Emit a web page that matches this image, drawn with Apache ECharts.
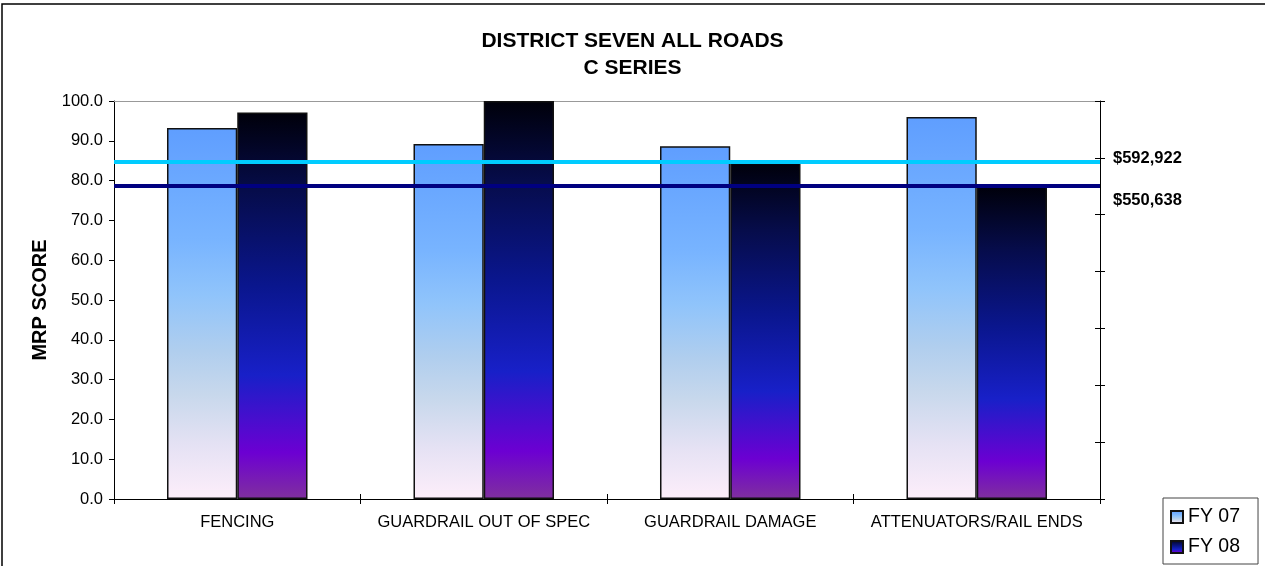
<!DOCTYPE html>
<html>
<head>
<meta charset="utf-8">
<script src="https://cdn.jsdelivr.net/npm/echarts@6/dist/echarts.min.js"></script>
<style>
html,body{margin:0;padding:0;background:#fff;}
#chart{width:1265px;height:566px;}
</style>
</head>
<body>
<div id="chart"></div>
<script>
const categories = ['FENCING', 'GUARDRAIL OUT OF SPEC', 'GUARDRAIL DAMAGE', 'ATTENUATORS/RAIL ENDS'];
const seriesNames = ['FY 07', 'FY 08'];
const fy07 = [93.2, 89.2, 88.6, 96.0];
const fy08 = [97.1, 100.0, 84.5, 78.6];
const costValues = [592922, 550638];
const costColors = ['#00ccff', '#000080'];
const scoreMin = 0, scoreMax = 100, scoreInterval = 10;
const costMin = 0, costMax = 700000, costInterval = 100000;

const FONT = "'Liberation Sans', Arial, sans-serif";

function grad(stops) {
  return new echarts.graphic.LinearGradient(0, 0, 0, 1,
    stops.map(s => ({offset: s[0], color: s[1]})));
}
const fy07Grad = grad([[0,'#5f9eff'],[0.3,'#78b4ff'],[0.45,'#90c4fb'],[0.6,'#b0ceee'],[0.72,'#c8d8ec'],[0.86,'#e6e2f4'],[1,'#fdeefa']]);
const fy08Grad = grad([[0,'#00000a'],[0.2,'#060c4a'],[0.45,'#0a168e'],[0.68,'#1820c8'],[0.88,'#6c00d2'],[1,'#80309e']]);

const chart = echarts.init(document.getElementById('chart'), null, {renderer: 'canvas'});

const lineSeries = costValues.map((v, i) => ({
  type: 'line',
  xAxisIndex: 1,
  yAxisIndex: 1,
  data: [[0, v], [1, v]],
  symbol: 'none',
  silent: true,
  z: 5,
  lineStyle: {color: costColors[i], width: 4},
  endLabel: {
    show: true,
    formatter: '$' + v.toLocaleString('en-US'),
    distance: 13,
    offset: [0, i === 0 ? -3 : 15],
    fontFamily: FONT,
    fontWeight: 'bold',
    fontSize: 16.5,
    color: '#000'
  }
}));

chart.setOption({
  animation: false,
  backgroundColor: '#fff',
  title: {
    text: 'DISTRICT SEVEN ALL ROADS\nC SERIES',
    left: 'center',
    top: 28,
    padding: [0, 0, 0, 5],
    textStyle: {fontFamily: FONT, fontWeight: 'bold', fontSize: 21, lineHeight: 26.5, color: '#000'}
  },
  legend: {
    data: seriesNames,
    orient: 'vertical',
    left: 1163,
    top: 498,
    padding: [9, 18, 7, 7],
    itemGap: 10,
    itemWidth: 12,
    itemHeight: 12,
    icon: 'rect',
    borderColor: '#444',
    borderWidth: 1,
    textStyle: {fontFamily: FONT, fontSize: 19.5, lineHeight: 18, color: '#000'}
  },
  grid: {left: 114, right: 165, top: 101, bottom: 67, containLabel: false, outerBoundsMode: 'none'},
  xAxis: [
    {
      type: 'category',
      data: categories,
      boundaryGap: true,
      axisLine: {show: true, lineStyle: {color: '#000', width: 1}},
      axisTick: {show: true, length: 5, inside: false, lineStyle: {color: '#000'}},
      axisLabel: {fontFamily: FONT, fontSize: 16.5, color: '#000', margin: 15, interval: 0},
      splitLine: {show: false}
    },
    {
      type: 'value',
      position: 'top',
      min: 0, max: 1,
      axisLine: {show: true, onZero: false, lineStyle: {color: '#999', width: 1}},
      axisTick: {show: false},
      axisLabel: {show: false},
      splitLine: {show: false}
    },
    {
      type: 'category',
      data: categories,
      position: 'bottom',
      boundaryGap: true,
      axisLine: {show: false},
      axisTick: {show: true, length: 5, inside: true, lineStyle: {color: '#000'}},
      axisLabel: {show: false},
      splitLine: {show: false}
    }
  ],
  yAxis: [
    {
      type: 'value',
      min: scoreMin, max: scoreMax, interval: scoreInterval,
      name: 'MRP SCORE',
      nameLocation: 'middle',
      nameGap: 37,
      nameRotate: 90,
      nameTextStyle: {fontFamily: FONT, fontWeight: 'bold', fontSize: 20, color: '#000'},
      axisLine: {show: true, lineStyle: {color: '#000', width: 1}},
      axisTick: {show: true, length: 5, lineStyle: {color: '#000'}},
      axisLabel: {fontFamily: FONT, fontSize: 16.5, color: '#000', margin: 11, formatter: v => v.toFixed(1)},
      splitLine: {show: false}
    },
    {
      type: 'value',
      position: 'right',
      min: costMin, max: costMax, interval: costInterval,
      axisLine: {show: true, lineStyle: {color: '#000', width: 1}},
      axisTick: {show: true, length: 5, lineStyle: {color: '#000'}},
      axisLabel: {show: false},
      splitLine: {show: false}
    },
    {
      type: 'value',
      position: 'right',
      min: costMin, max: costMax, interval: costInterval,
      axisLine: {show: false},
      axisTick: {show: true, inside: true, length: 5, lineStyle: {color: '#000'}},
      axisLabel: {show: false},
      splitLine: {show: false}
    }
  ],
  series: [
    {
      name: seriesNames[0],
      type: 'bar',
      data: fy07,
      barGap: '0%',
      barCategoryGap: '43%',
      itemStyle: {color: fy07Grad, borderColor: '#111', borderWidth: 1.5}
    },
    {
      name: seriesNames[1],
      type: 'bar',
      data: fy08,
      barGap: '0%',
      barCategoryGap: '43%',
      itemStyle: {color: fy08Grad, borderColor: '#111', borderWidth: 1.5}
    }
  ].concat(lineSeries),
  graphic: [
    {
      type: 'rect',
      silent: true,
      shape: {x: 2, y: 4, width: 1300, height: 600},
      style: {fill: 'none', stroke: '#000', lineWidth: 1.5}
    }
  ]
});
</script>
</body>
</html>
